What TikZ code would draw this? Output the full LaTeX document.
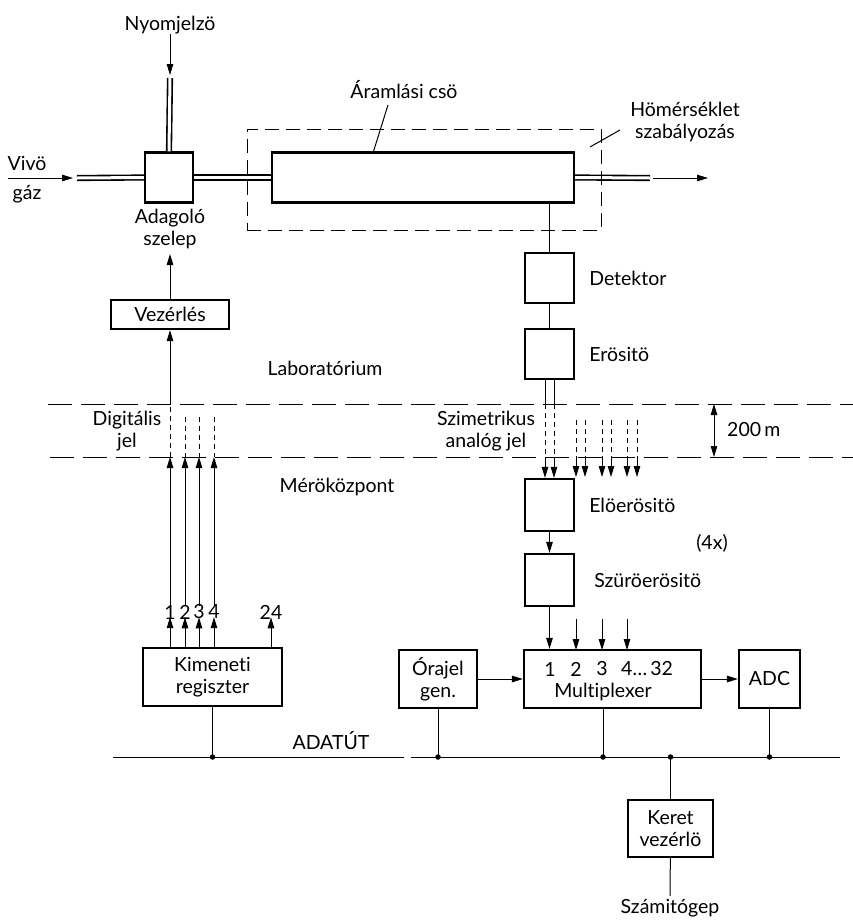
\documentclass[tikz,border=0pt]{standalone}
\usepackage{fontspec}
\setmainfont{Lato}[Ligatures=NoCommon]
\usetikzlibrary{arrows.meta,positioning,calc}
\tikzset{
  blokk/.style={draw, line width=2.2pt, minimum width=49pt, minimum height=50pt, inner sep=0pt},
  keret/.style={draw, line width=2.2pt, align=center, inner sep=2pt},
  felirat/.style={align=center, inner sep=0pt},
  jel/.style={line width=1pt},
  nyil/.style={jel, -{Triangle[length=11pt,width=6.5pt]}},
  ketnyil/.style={jel, {Triangle[length=11pt,width=6.5pt]}-{Triangle[length=11pt,width=6.5pt]}},
  szaggat/.style={jel, dash pattern=on 5pt off 4pt},
  hatar/.style={line width=1pt, dash pattern=on 24pt off 9pt},
  dobozszag/.style={line width=1pt, dash pattern=on 14pt off 7pt},
  cso/.style={line width=1.6pt, double, double distance=3pt},
  pont/.style={circle, fill, inner sep=0pt, minimum size=5.5pt}
}

\begin{document}
\begin{tikzpicture}[x=1pt,y=-1pt,font=\fontsize{19.5}{22}\selectfont]
  \useasboundingbox (0,0) rectangle (853,924);

  % hatarvonalak
  \coordinate (fA) at (48,404);  \coordinate (fB) at (853,404);
  \coordinate (aA) at (50,457);  \coordinate (aB) at (853,457);
  \draw[hatar] (fA) -- (fB);
  \draw[hatar] (aA) -- (aB);

  % gazvezetek
  \node[blokk, minimum width=48pt] (adagolo) at (169,177.5) {};
  \node[blokk, minimum width=302pt] (aramcso) at (423,177.5) {};
  \node[felirat] (nyomjelzo) at (170,25) {Nyomjelzö};
  \coordinate (nyomcso) at (170,78);
  \draw[nyil, shorten >=3pt] (nyomjelzo) -- (nyomcso);
  \draw[cso] (nyomcso) -- (adagolo.north);
  \node[felirat] (vivo) at (27,163) {Vivö};
  \node[felirat] (gaz) at (27,194) {gáz};
  \coordinate (vivoA) at (8,178);
  \coordinate (csoA) at (77,178);
  \draw[nyil, shorten >=4pt] (vivoA) -- (csoA);
  \draw[cso] (csoA) -- (adagolo.west);
  \draw[cso] (adagolo.east) -- (aramcso.west);
  \coordinate (csoK) at (650,178);
  \coordinate (kiA) at (708,178);
  \draw[cso] (aramcso.east) -- (csoK);
  \draw[nyil, shorten <=3pt] (csoK) -- (kiA);
  \node[dobozszag, draw, minimum width=354pt, minimum height=101pt] (termosztat) at (424,179.5) {};
  \node[felirat] (adagfel) at (170,229) {Adagoló\\szelep};
  \node[felirat] (aramlasi) at (404,90) {Áramlási csö};
  \node[felirat] (homer) at (685,122) {Hömérséklet\\szabályozás};
  \coordinate (aramV) at (373,153);
  \coordinate (aramF) at (388,105);
  \draw[jel] (aramV) -- (aramF);
  \coordinate (homV) at (590,147);
  \coordinate (homF) at (620,130);
  \draw[jel] (homV) -- (homF);

  % vezerles
  \node[keret, minimum width=118pt, minimum height=29pt, inner sep=0pt] (vezerles) at (170,314.5) {Vezérlés};
  \draw[nyil, shorten >=5pt] (vezerles) -- (adagfel);

  % meroag
  \node[blokk] (detektor) at (549.5,278) {};
  \node[blokk] (erosito) at (549.5,354) {};
  \node[blokk, minimum height=52pt] (eloerosito) at (549.5,505) {};
  \node[blokk, minimum height=52pt] (szuro) at (549.5,580) {};
  \node[felirat, right=14pt of detektor] {Detektor};
  \node[felirat, right=14pt of erosito] {Erösitö};
  \node[felirat, right=14pt of eloerosito] {Elöerösitö};
  \node[felirat, right=19pt of szuro] {Szüröerösitö};
  \node[felirat] (negyx) at (712,543) {(4x)};
  \draw[jel] (detektor.north |- aramcso.south) -- (detektor.north);
  \draw[jel] (detektor) -- (erosito);
  \foreach \dx in {-4.5,4.5} {
    \draw[jel] ([xshift=\dx pt]erosito.south) -- ([xshift=\dx pt]erosito.south |- fA);
    \draw[szaggat] ([xshift=\dx pt]erosito.south |- fA) -- ([xshift=\dx pt]erosito.south |- aA);
    \draw[nyil] ([xshift=\dx pt]erosito.south |- aA) -- ([xshift=\dx pt]eloerosito.north);
  }
  \foreach \x in {576,585,602,611,627,637} {
    \draw[szaggat] (\x,420) -- (\x,457);
    \draw[nyil] (\x,457) -- (\x,477);
  }
  \draw[nyil] (eloerosito) -- (szuro);

  % feliratok
  \node[felirat] (labor) at (325,368) {Laboratórium};
  \node[felirat] (merokp) at (337,487) {Méröközpont};
  \node[felirat] (digit) at (127,431) {Digitális\\jel};
  \node[felirat] (szimm) at (486,431) {Szimetrikus\\analóg jel};
  \coordinate (tavF) at (714,404);
  \coordinate (tavA) at (714,457);
  \draw[ketnyil] (tavF) -- (tavA);
  \node[felirat, anchor=west] (tav) at (727,430) {200\,m};

  % multiplexer
  \node[keret, minimum width=177pt, minimum height=58pt] (mux) at (612.5,679) {};
  \node[keret, minimum width=78pt, minimum height=58pt, inner sep=0pt] (orajel) at (438,679) {Órajel\\gen.};
  \node[keret, minimum width=61pt, minimum height=58pt] (adc) at (769.5,679) {ADC};
  \draw[nyil] (szuro) -- (szuro |- mux.north);
  \foreach \x in {576,602,627} {
    \draw[nyil] (\x,619) -- (\x,650);
  }
  \foreach \x/\n in {550/1,576/2,602/3} {
    \node[felirat] (mx\n) at (\x,669) {\n};
  }
  \node[felirat, anchor=west] (mx4) at (621,669) {4\ldots\,32};
  \node[felirat] (muxnev) at (603,692) {Multiplexer};
  \draw[nyil] (orajel) -- (mux);
  \draw[nyil] (mux) -- (adc);

  % kimeneti regiszter
  \node[keret, minimum width=139pt, minimum height=58pt, inner sep=0pt] (kimeneti) at (212.5,677) {Kimeneti\\regiszter};
  \foreach \x/\n in {170/1,185/2,199/3,214/4} {
    \node[felirat] (kn\n) at (\x,612) {\n};
    \draw[nyil] (kimeneti.north -| kn\n) -- ([yshift=2pt]kn\n.south);
    \draw[nyil] ([yshift=-1pt]kn\n.north) -- (kn\n |- aA);
  }
  \foreach \x in {185,199,214} {
    \draw[szaggat] (\x,417) -- (\x,457);
  }
  \draw[szaggat] (kn1 |- aA) -- (kn1 |- fA);
  \draw[nyil] (kn1 |- fA) -- (vezerles);
  \node[felirat] (kn24) at (271,612) {24};
  \draw[nyil] (kimeneti.north -| kn24) -- ([yshift=2pt]kn24.south);

  % adatut
  \coordinate (busz1) at (113,757);
  \coordinate (busz2) at (404,757);
  \coordinate (busz3) at (411,757);
  \coordinate (busz4) at (840,757);
  \draw[jel] (busz1) -- (busz2);
  \draw[jel] (busz3) -- (busz4);
  \node[felirat] (adatut) at (331,741) {ADATÚT};
  \node[keret, minimum width=85pt, minimum height=57pt, inner sep=0pt] (keretv) at (670.5,828.5) {Keret\\vezérlö};
  \node[felirat] (szamitogep) at (670,908) {Számitógep};
  \draw[jel] (kimeneti) -- (kimeneti |- busz1) node[pont] {};
  \draw[jel] (orajel) -- (orajel |- busz1) node[pont] {};
  \draw[jel] ([xshift=-9.5pt]mux.south) -- ([xshift=-9.5pt]mux.south |- busz1) node[pont] {};
  \draw[jel] (adc) -- (adc |- busz1) node[pont] {};
  \draw[jel] (keretv) -- (keretv |- busz1) node[pont] {};
  \draw[jel, shorten >=3pt] (keretv) -- (szamitogep);
\end{tikzpicture}
\end{document}
